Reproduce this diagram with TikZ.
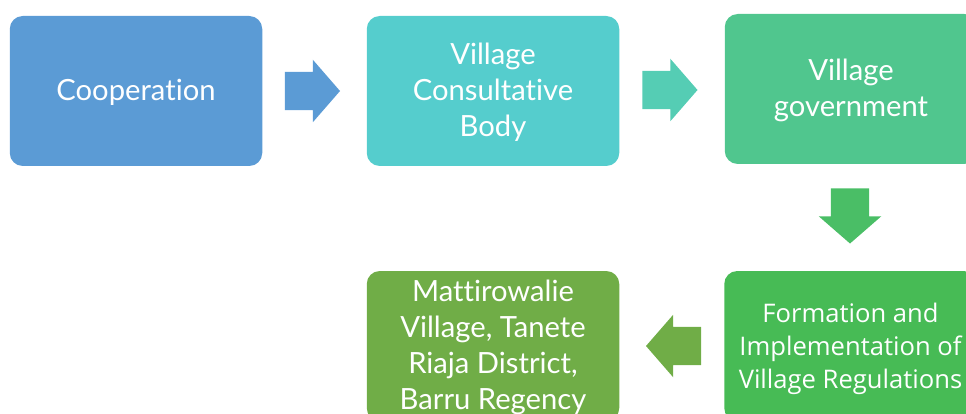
\documentclass[tikz,border=0pt]{standalone}
\usepackage{fontspec}
\setmainfont{Lato}[Ligatures=NoCommon]
\newfontfamily\formfont{Open Sans}
\usetikzlibrary{shapes.arrows}
\definecolor{cA}{HTML}{5B9BD5}
\definecolor{cB}{HTML}{55CDCD}
\definecolor{cC}{HTML}{50C68E}
\definecolor{cD}{HTML}{47BB55}
\definecolor{cE}{HTML}{70AD47}
\definecolor{aB}{HTML}{55CDB4}
\newcommand\nudge{\rule{0pt}{25pt}}
\tikzset{
  x=1pt,y=-1pt,
  stagebox/.style={rounded corners=13pt,minimum width=252.5pt,minimum height=150pt,inner sep=0pt,outer sep=0pt,
    text=white,align=center,font=\fontsize{29.2}{36}\selectfont},
  flowarrow/.style={single arrow,minimum height=54pt,minimum width=62.5pt,inner sep=19pt,outer sep=0pt,
    single arrow head extend=12pt,single arrow head indent=0pt,single arrow tip angle=98}
}
\begin{document}
\begin{tikzpicture}
\useasboundingbox (0,0) rectangle (966,414);
\clip (0,0) rectangle (966,414);
\node[stagebox,fill=cA] (coop) at (136,91) {\nudge Cooperation};
\node[stagebox,fill=cB] (body) at (493,91) {\nudge Village\\Consultative\\Body};
\node[stagebox,fill=cC] (gov) at (851,89) {\nudge Village\\government};
\node[stagebox,fill=cD,font=\formfont\fontsize{25.6}{33}\selectfont] (form) at (850.5,346) {\nudge Formation and\\Implementation of\\Village Regulations};
\node[stagebox,fill=cE] (mat) at (493,346) {\nudge Mattirowalie\\Village, Tanete\\Riaja District,\\Barru Regency};
\node[flowarrow,fill=cA,anchor=tip] (a1) at (340,91) {};
\node[flowarrow,fill=aB,anchor=tip] (a2) at (697.5,90) {};
\node[flowarrow,fill=cD!70!cC,shape border rotate=270,anchor=tip] (a3) at (850,243.5) {};
\node[flowarrow,fill=cE,shape border rotate=180,anchor=tip] (a4) at (646,346) {};
\end{tikzpicture}
\end{document}
